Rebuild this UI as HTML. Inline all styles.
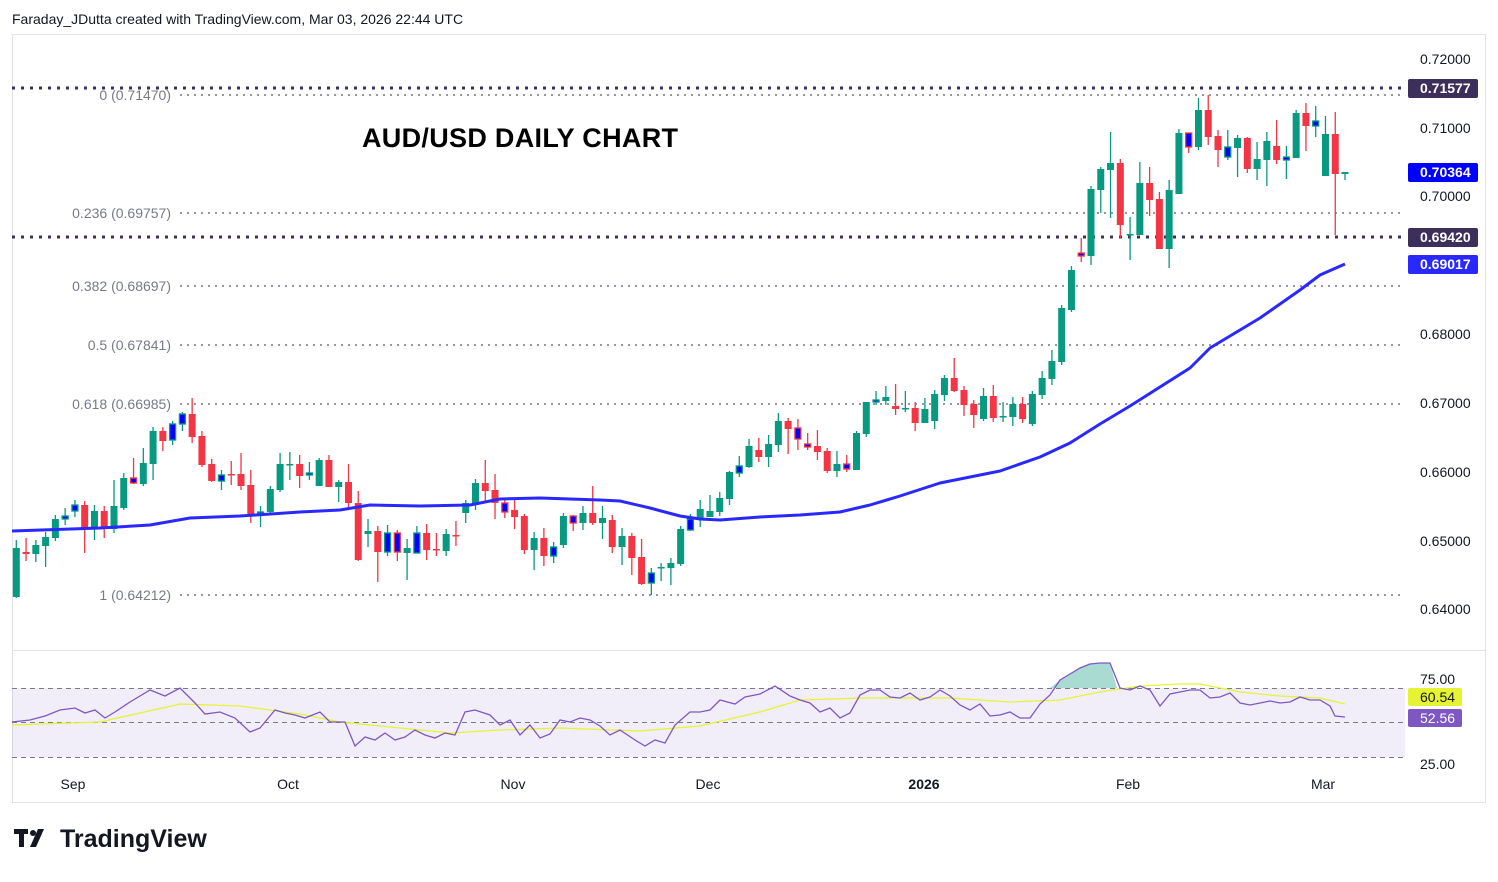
<!DOCTYPE html>
<html><head><meta charset="utf-8"><style>
body{margin:0;background:#fff;width:1498px;height:877px;overflow:hidden;font-family:"Liberation Sans",sans-serif}
</style></head><body>
<svg id="s" width="1498" height="877" xmlns="http://www.w3.org/2000/svg" font-family="Liberation Sans, sans-serif">
<defs><clipPath id="rp"><rect x="1405" y="650" width="90" height="119"/></clipPath></defs>
<text x="12" y="24" font-size="14" fill="#131722">Faraday_JDutta created with TradingView.com, Mar 03, 2026 22:44 UTC</text>
<rect x="12.5" y="34.5" width="1473" height="768" fill="none" stroke="#e0e3eb"/>
<line x1="12" y1="650.5" x2="1485" y2="650.5" stroke="#e0e3eb"/>
<rect x="12" y="688" width="1393" height="69" fill="#7e57c2" fill-opacity="0.1"/>
<g stroke="#787b86" stroke-dasharray="5,4" stroke-width="1">
<line x1="12" y1="688.5" x2="1405" y2="688.5"/><line x1="12" y1="722.5" x2="1405" y2="722.5"/><line x1="12" y1="757.5" x2="1405" y2="757.5"/></g>
<g stroke="#9598a1" stroke-width="2" stroke-dasharray="2,5">
<line x1="180" y1="95" x2="1405" y2="95"/><line x1="180" y1="213" x2="1405" y2="213"/><line x1="180" y1="286" x2="1405" y2="286"/><line x1="180" y1="345" x2="1405" y2="345"/><line x1="180" y1="404" x2="1405" y2="404"/><line x1="180" y1="595" x2="1405" y2="595"/></g>
<g stroke="#3d2f5c" stroke-width="3" stroke-dasharray="3,6">
<line x1="12" y1="88" x2="1405" y2="88"/><line x1="12" y1="237" x2="1405" y2="237"/></g>
<g font-size="14" fill="#787b86" text-anchor="end">
<text x="171" y="100">0 (0.71470)</text><text x="171" y="218">0.236 (0.69757)</text><text x="171" y="291">0.382 (0.68697)</text><text x="171" y="350">0.5 (0.67841)</text><text x="171" y="409">0.618 (0.66985)</text><text x="171" y="600">1 (0.64212)</text></g>
<text x="362" y="147" font-size="27" font-weight="bold" fill="#000" textLength="316">AUD/USD DAILY CHART</text>
<g id="c"></g>
<polyline fill="none" stroke="#2929ff" stroke-width="3" stroke-linejoin="round" points="12,531 100,528 150,525 190,518 240,516 300,512 340,510 370,505 420,506 470,505 500,499 540,498 600,500 620,501 650,508 680,516 700,519 720,520 760,517 800,515 840,512 870,505 900,496 940,483 970,477 1000,471 1040,457 1070,443 1100,424 1130,406 1160,387 1190,368 1210,348 1240,330 1260,318 1300,290 1320,275 1345,264"/>
<g id="r"></g>
<g font-size="14" fill="#131722">
<text x="1420" y="64">0.72000</text><text x="1420" y="133">0.71000</text><text x="1420" y="201">0.70000</text><text x="1420" y="339">0.68000</text><text x="1420" y="408">0.67000</text><text x="1420" y="477">0.66000</text><text x="1420" y="546">0.65000</text><text x="1420" y="614">0.64000</text>
<text x="1420" y="684">75.00</text><text x="1420" y="769" clip-path="url(#rp)">25.00</text></g>
<rect x="1408" y="79" width="70" height="19" rx="2" fill="#3d2f5c"/><text x="1420" y="93" font-size="14" font-weight="bold" fill="#fff">0.71577</text>
<rect x="1408" y="163" width="70" height="19" rx="2" fill="#0000ff"/><text x="1420" y="177" font-size="14" font-weight="bold" fill="#fff">0.70364</text>
<rect x="1408" y="228" width="70" height="19" rx="2" fill="#3d2f5c"/><text x="1420" y="242" font-size="14" font-weight="bold" fill="#fff">0.69420</text>
<rect x="1408" y="255" width="70" height="19" rx="2" fill="#2929ff"/><text x="1420" y="269" font-size="14" font-weight="bold" fill="#fff">0.69017</text>
<rect x="1408" y="688" width="54" height="18" rx="2" fill="#e6f333"/><text x="1420" y="702" font-size="14" fill="#131722">60.54</text>
<rect x="1408" y="709" width="54" height="18" rx="2" fill="#7e57c2"/><text x="1420" y="723" font-size="14" fill="#fff">52.56</text>
<g font-size="14" fill="#131722" text-anchor="middle">
<text x="73" y="789">Sep</text><text x="288" y="789">Oct</text><text x="513" y="789">Nov</text><text x="708" y="789">Dec</text><text x="924" y="789" font-weight="bold">2026</text><text x="1128" y="789">Feb</text><text x="1323" y="789">Mar</text></g>
<g fill="#131722"><rect x="14" y="829" width="14" height="5"/><rect x="19" y="829" width="5" height="18"/><circle cx="33" cy="833" r="3"/><path d="M38 829 h6 l-8 18 h-6z"/></g>
<text x="60" y="847" font-size="25" font-weight="bold" fill="#131722">TradingView</text>
</svg>
<script>
var D=[["g",597,548,540,598],["r",552,554,538,561],["g",554,545,540,562],["g",546,537,532,567],["g",538,519,515,541],["bg",519,516,508,525],["bg",511,505,500,517],["r",505,529,501,553],["g",529,511,505,540],["r",511,529,506,538],["g",529,506,480,533],["g",508,478,473,510],["br",478,483,458,484],["g",484,463,448,486],["g",464,431,427,480],["r",431,441,427,451],["bg",440,424,421,445],["bg",424,414,412,431],["r",414,437,398,443],["r",436,465,431,467],["r",464,481,459,482],["bg",481,475,470,490],["r",474,474,461,485],["r",474,486,453,490],["r",485,514,470,523],["bg",513,512,506,527],["g",512,489,486,513],["g",490,464,453,492],["g",464,464,452,480],["r",464,476,455,488],["bg",475,473,462,480],["g",486,460,458,486],["r",460,487,455,487],["g",487,482,480,502],["r",482,503,464,508],["r",503,560,491,561],["g",534,531,519,547],
["r",531,552,526,582],["bg",552,533,525,556],["br",533,552,530,561],["g",553,548,539,580],["bg",553,533,526,553],["r",533,550,524,560],["r",549,549,533,556],["g",551,534,529,556],["r",535,535,521,546],["g",513,503,500,523],["g",504,483,479,510],["r",483,491,460,502],["r",490,503,474,519],["br",503,512,499,518],["r",510,517,498,529],["r",516,550,514,554],["g",550,538,532,570],["r",538,556,528,566],["bg",556,547,542,563],["g",545,516,513,548],["br",516,523,515,531],["g",523,513,506,530],["r",513,523,486,525],["g",523,518,506,539],["r",520,547,515,553],["g",547,536,528,565],["r",536,558,533,575],["r",557,584,539,585],["bg",583,573,568,595],["g",567,567,563,581],["g",568,563,558,585],["g",564,529,526,566],["bg",530,519,514,531],["g",519,509,500,527],
["g",517,511,495,517],["g",512,498,492,516],["g",499,472,471,505],["bg",473,466,456,477],["g",467,446,439,468],["r",450,457,438,462],["g",457,444,435,467],["g",445,421,413,452],["r",421,429,418,454],["br",428,439,419,450],["br",444,447,433,450],["r",446,452,430,460],["r",451,471,448,473],["g",471,464,451,477],["br",464,469,455,472],["g",470,433,431,470],["g",434,402,402,437],["bg",402,400,391,405],["g",401,397,386,405],["r",406,409,384,415],["g",408,408,391,412],["r",408,423,402,431],["g",423,409,398,423],["g",421,394,390,429],["g",395,378,375,401],["r",378,391,358,392],["r",390,405,386,416],["r",404,415,400,428],["g",419,396,388,421],["r",396,418,385,422],["g",416,416,402,422],["g",417,404,397,426],["r",404,419,397,423],["g",424,394,391,426],["g",395,378,371,399],["g",379,361,350,385],
["g",362,308,305,365],["g",310,270,266,312],["br",253,256,238,262],["g",256,189,186,265],["g",190,169,167,213],["g",170,163,132,218],["r",163,225,159,238],["g",234,234,217,260],["g",235,183,162,235],["r",183,200,167,216],["r",199,249,192,249],["g",249,190,180,268],["g",194,133,129,194],["br",133,147,133,153],["g",147,110,98,150],["r",110,137,95,145],["r",136,150,130,167],["bg",157,147,130,160],["g",148,138,135,177],["r",138,169,137,173],["g",169,159,142,180],["g",160,141,132,186],["r",146,160,120,164],["bg",160,157,146,179],["g",158,113,110,158],["r",113,126,103,151],["bg",126,121,106,137],["g",176,134,116,176],["r",134,174,112,235],["g",174,172,172,180]];
var G="#089981",R="#f23645",h="";
D.forEach(function(d,i){var x=16.3+i*9.77,t=d[0],col=(t=="g"||t=="bg")?G:R;var top=Math.min(d[1],d[2]),bh=Math.max(Math.abs(d[1]-d[2]),1.5);
h+='<line x1="'+x+'" x2="'+x+'" y1="'+d[3]+'" y2="'+d[4]+'" stroke="'+col+'" stroke-width="1.3"/>';
if(t[0]=="b")h+='<rect x="'+(x-3)+'" y="'+top+'" width="6" height="'+bh+'" fill="#0000ff" stroke="'+col+'" stroke-width="1.3"/>';
else h+='<rect x="'+(x-3.5)+'" y="'+top+'" width="7" height="'+bh+'" fill="'+col+'"/>';});
document.getElementById("c").innerHTML=h;
var rsi="12,722 30,720 45,716 60,710 75,708 85,713 95,710 105,718 115,712 130,702 150,690 165,696 180,688 195,703 205,714 220,712 235,718 250,732 260,728 275,710 285,713 295,715 305,718 320,712 330,722 345,722 355,746 365,737 375,740 385,733 395,740 405,737 415,730 425,735 435,738 445,733 455,735 465,712 475,710 490,715 500,725 510,720 520,735 530,725 540,738 550,734 560,720 570,722 580,718 590,720 600,726 610,735 620,730 635,740 645,746 655,740 665,743 675,725 690,712 700,712 710,710 720,700 735,704 745,697 760,694 775,686 790,696 800,700 810,703 820,712 830,708 840,718 850,713 860,695 870,690 880,690 890,697 900,698 910,693 920,700 930,697 940,690 950,696 960,705 970,710 980,704 990,716 1000,715 1010,712 1020,718 1030,718 1040,704 1050,695 1060,680 1070,674 1080,668 1090,664 1100,663 1110,663 1120,688 1130,690 1140,686 1150,690 1160,706 1170,694 1180,692 1190,690 1200,690 1210,698 1220,697 1230,693 1240,703 1250,705 1260,703 1270,701 1280,703 1290,702 1300,697 1310,700 1320,700 1330,706 1335,716 1345,717";
var ma="12,725 100,722 180,704 240,706 300,714 340,722 400,728 450,733 500,730 560,728 640,731 700,726 760,712 800,700 860,698 950,698 1010,702 1060,700 1100,692 1140,686 1180,684 1200,684 1240,692 1280,696 1320,698 1345,704";
document.getElementById("r").innerHTML='<polygon points="1050,688 1060,680 1070,674 1080,668 1090,664 1100,663 1110,663 1117,688" fill="#089981" fill-opacity="0.35"/><polyline points="'+ma+'" fill="none" stroke="#e6f333" stroke-width="1.3"/><polyline points="'+rsi+'" fill="none" stroke="#7e57c2" stroke-width="1.3"/>';
</script>
</body></html>
